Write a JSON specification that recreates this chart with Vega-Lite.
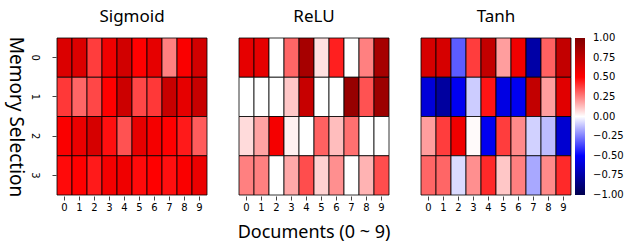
{
  "$schema": "https://vega.github.io/schema/vega-lite/v6.json",
  "padding": {"left": 5, "top": 8, "right": 0, "bottom": 0},
  "datasets": {
    "cells": [
      {"act":"Sigmoid","mem":0,"doc":0,"v":0.64},{"act":"Sigmoid","mem":0,"doc":1,"v":0.64},{"act":"Sigmoid","mem":0,"doc":2,"v":0.38},{"act":"Sigmoid","mem":0,"doc":3,"v":0.56},{"act":"Sigmoid","mem":0,"doc":4,"v":0.68},{"act":"Sigmoid","mem":0,"doc":5,"v":0.5},{"act":"Sigmoid","mem":0,"doc":6,"v":0.6},{"act":"Sigmoid","mem":0,"doc":7,"v":0.25},{"act":"Sigmoid","mem":0,"doc":8,"v":0.52},{"act":"Sigmoid","mem":0,"doc":9,"v":0.68},
      {"act":"Sigmoid","mem":1,"doc":0,"v":0.39},{"act":"Sigmoid","mem":1,"doc":1,"v":0.3},{"act":"Sigmoid","mem":1,"doc":2,"v":0.36},{"act":"Sigmoid","mem":1,"doc":3,"v":0.5},{"act":"Sigmoid","mem":1,"doc":4,"v":0.7},{"act":"Sigmoid","mem":1,"doc":5,"v":0.36},{"act":"Sigmoid","mem":1,"doc":6,"v":0.39},{"act":"Sigmoid","mem":1,"doc":7,"v":0.72},{"act":"Sigmoid","mem":1,"doc":8,"v":0.6},{"act":"Sigmoid","mem":1,"doc":9,"v":0.72},
      {"act":"Sigmoid","mem":2,"doc":0,"v":0.52},{"act":"Sigmoid","mem":2,"doc":1,"v":0.58},{"act":"Sigmoid","mem":2,"doc":2,"v":0.66},{"act":"Sigmoid","mem":2,"doc":3,"v":0.47},{"act":"Sigmoid","mem":2,"doc":4,"v":0.34},{"act":"Sigmoid","mem":2,"doc":5,"v":0.6},{"act":"Sigmoid","mem":2,"doc":6,"v":0.54},{"act":"Sigmoid","mem":2,"doc":7,"v":0.5},{"act":"Sigmoid","mem":2,"doc":8,"v":0.45},{"act":"Sigmoid","mem":2,"doc":9,"v":0.32},
      {"act":"Sigmoid","mem":3,"doc":0,"v":0.48},{"act":"Sigmoid","mem":3,"doc":1,"v":0.5},{"act":"Sigmoid","mem":3,"doc":2,"v":0.45},{"act":"Sigmoid","mem":3,"doc":3,"v":0.54},{"act":"Sigmoid","mem":3,"doc":4,"v":0.56},{"act":"Sigmoid","mem":3,"doc":5,"v":0.48},{"act":"Sigmoid","mem":3,"doc":6,"v":0.5},{"act":"Sigmoid","mem":3,"doc":7,"v":0.47},{"act":"Sigmoid","mem":3,"doc":8,"v":0.52},{"act":"Sigmoid","mem":3,"doc":9,"v":0.58},
      {"act":"ReLU","mem":0,"doc":0,"v":0.6},{"act":"ReLU","mem":0,"doc":1,"v":0.6},{"act":"ReLU","mem":0,"doc":2,"v":0.0},{"act":"ReLU","mem":0,"doc":3,"v":0.3},{"act":"ReLU","mem":0,"doc":4,"v":0.85},{"act":"ReLU","mem":0,"doc":5,"v":0.06},{"act":"ReLU","mem":0,"doc":6,"v":0.44},{"act":"ReLU","mem":0,"doc":7,"v":0.0},{"act":"ReLU","mem":0,"doc":8,"v":0.25},{"act":"ReLU","mem":0,"doc":9,"v":0.85},
      {"act":"ReLU","mem":1,"doc":0,"v":0.0},{"act":"ReLU","mem":1,"doc":1,"v":0.0},{"act":"ReLU","mem":1,"doc":2,"v":0.0},{"act":"ReLU","mem":1,"doc":3,"v":0.11},{"act":"ReLU","mem":1,"doc":4,"v":0.72},{"act":"ReLU","mem":1,"doc":5,"v":0.0},{"act":"ReLU","mem":1,"doc":6,"v":0.0},{"act":"ReLU","mem":1,"doc":7,"v":0.91},{"act":"ReLU","mem":1,"doc":8,"v":0.34},{"act":"ReLU","mem":1,"doc":9,"v":0.89},
      {"act":"ReLU","mem":2,"doc":0,"v":0.07},{"act":"ReLU","mem":2,"doc":1,"v":0.18},{"act":"ReLU","mem":2,"doc":2,"v":0.54},{"act":"ReLU","mem":2,"doc":3,"v":0.03},{"act":"ReLU","mem":2,"doc":4,"v":0.0},{"act":"ReLU","mem":2,"doc":5,"v":0.31},{"act":"ReLU","mem":2,"doc":6,"v":0.13},{"act":"ReLU","mem":2,"doc":7,"v":0.28},{"act":"ReLU","mem":2,"doc":8,"v":0.0},{"act":"ReLU","mem":2,"doc":9,"v":0.0},
      {"act":"ReLU","mem":3,"doc":0,"v":0.25},{"act":"ReLU","mem":3,"doc":1,"v":0.25},{"act":"ReLU","mem":3,"doc":2,"v":0.0},{"act":"ReLU","mem":3,"doc":3,"v":0.17},{"act":"ReLU","mem":3,"doc":4,"v":0.35},{"act":"ReLU","mem":3,"doc":5,"v":0.09},{"act":"ReLU","mem":3,"doc":6,"v":0.22},{"act":"ReLU","mem":3,"doc":7,"v":0.0},{"act":"ReLU","mem":3,"doc":8,"v":0.15},{"act":"ReLU","mem":3,"doc":9,"v":0.35},
      {"act":"Tanh","mem":0,"doc":0,"v":0.66},{"act":"Tanh","mem":0,"doc":1,"v":0.66},{"act":"Tanh","mem":0,"doc":2,"v":-0.32},{"act":"Tanh","mem":0,"doc":3,"v":0.38},{"act":"Tanh","mem":0,"doc":4,"v":0.74},{"act":"Tanh","mem":0,"doc":5,"v":0.19},{"act":"Tanh","mem":0,"doc":6,"v":0.56},{"act":"Tanh","mem":0,"doc":7,"v":-0.75},{"act":"Tanh","mem":0,"doc":8,"v":0.31},{"act":"Tanh","mem":0,"doc":9,"v":0.74},
      {"act":"Tanh","mem":1,"doc":0,"v":-0.61},{"act":"Tanh","mem":1,"doc":1,"v":-0.77},{"act":"Tanh","mem":1,"doc":2,"v":-0.54},{"act":"Tanh","mem":1,"doc":3,"v":-0.1},{"act":"Tanh","mem":1,"doc":4,"v":0.46},{"act":"Tanh","mem":1,"doc":5,"v":-0.58},{"act":"Tanh","mem":1,"doc":6,"v":-0.54},{"act":"Tanh","mem":1,"doc":7,"v":0.74},{"act":"Tanh","mem":1,"doc":8,"v":0.19},{"act":"Tanh","mem":1,"doc":9,"v":0.62},
      {"act":"Tanh","mem":2,"doc":0,"v":0.19},{"act":"Tanh","mem":2,"doc":1,"v":0.38},{"act":"Tanh","mem":2,"doc":2,"v":0.56},{"act":"Tanh","mem":2,"doc":3,"v":0.01},{"act":"Tanh","mem":2,"doc":4,"v":-0.54},{"act":"Tanh","mem":2,"doc":5,"v":0.38},{"act":"Tanh","mem":2,"doc":6,"v":0.23},{"act":"Tanh","mem":2,"doc":7,"v":-0.09},{"act":"Tanh","mem":2,"doc":8,"v":-0.13},{"act":"Tanh","mem":2,"doc":9,"v":-0.63},
      {"act":"Tanh","mem":3,"doc":0,"v":0.3},{"act":"Tanh","mem":3,"doc":1,"v":0.3},{"act":"Tanh","mem":3,"doc":2,"v":-0.07},{"act":"Tanh","mem":3,"doc":3,"v":0.22},{"act":"Tanh","mem":3,"doc":4,"v":0.42},{"act":"Tanh","mem":3,"doc":5,"v":0.11},{"act":"Tanh","mem":3,"doc":6,"v":0.25},{"act":"Tanh","mem":3,"doc":7,"v":-0.17},{"act":"Tanh","mem":3,"doc":8,"v":0.23},{"act":"Tanh","mem":3,"doc":9,"v":0.42}
    ]
  },
  "data": {"name": "cells"},
  "spacing": {"column": 30},
  "facet": {
    "column": {
      "field": "act",
      "type": "nominal",
      "sort": ["Sigmoid", "ReLU", "Tanh"],
      "title": "Documents (0 ~ 9)",
      "header": {
        "labelOrient": "top",
        "titleOrient": "bottom",
        "labelFont": "Noto Sans",
        "labelFontSize": 17,
        "labelFontWeight": "normal",
        "labelColor": "#000",
        "labelPadding": 11,
        "titleFont": "Noto Sans",
        "titleFontSize": 18,
        "titleFontWeight": "normal",
        "titleColor": "#000",
        "titlePadding": 2
      }
    }
  },
  "spec": {
    "width": 150,
    "height": 157,
    "mark": {"type": "rect", "stroke": "#000", "strokeWidth": 0.8},
    "encoding": {
      "x": {
        "field": "doc", "type": "ordinal",
        "scale": {"paddingInner": 0, "paddingOuter": 0},
        "axis": {"title": null, "labelAngle": 0, "labelPadding": 2}
      },
      "y": {
        "field": "mem", "type": "ordinal",
        "scale": {"paddingInner": 0, "paddingOuter": 0},
        "axis": {"title": "Memory Selection", "labelAngle": 90, "labelAlign": "center", "labelBaseline": "top", "labelPadding": 13, "titleAngle": 90, "titleBaseline": "top", "titleFont": "Noto Sans", "titleFontSize": 19, "titleFontWeight": "normal", "titleColor": "#000", "titlePadding": 5}
      },
      "color": {
        "field": "v", "type": "quantitative",
        "scale": {"domain": [-1, -0.5, 0, 0.5, 1], "range": ["#00004d", "#0000ff", "#ffffff", "#ff0000", "#800000"], "interpolate": "rgb"},
        "legend": {
          "title": null,
          "direction": "vertical",
          "gradientLength": 157,
          "gradientThickness": 10,
          "gradientStrokeWidth": 0,
          "values": [1, 0.75, 0.5, 0.25, 0, -0.25, -0.5, -0.75, -1],
          "format": ".2f",
          "labelFont": "DejaVu Sans",
          "labelFontSize": 10,
          "labelColor": "#000",
          "labelOffset": 8,
          "offset": 3,
          "encode": {"labels": {"update": {"baseline": {"value": "middle"}}}}
        }
      }
    }
  },
  "config": {
    "view": {"stroke": null},
    "axis": {"domain": false, "tickColor": "#444", "tickSize": 4, "labelFont": "DejaVu Sans", "labelFontSize": 10, "labelColor": "#000", "grid": false}
  }
}
